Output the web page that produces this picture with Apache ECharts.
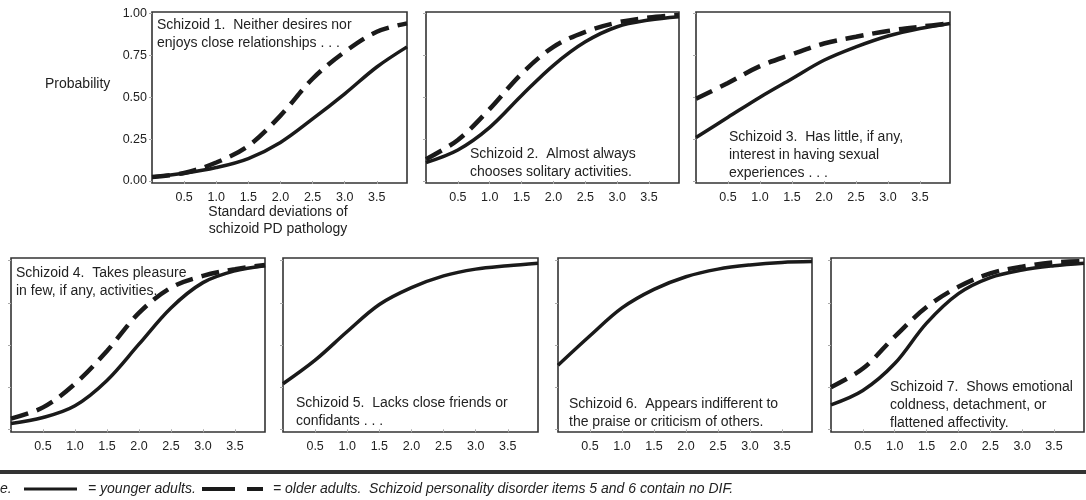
<!DOCTYPE html>
<html>
<head>
<meta charset="utf-8">
<script src="https://cdn.jsdelivr.net/npm/echarts@6/dist/echarts.min.js"></script>
<style>
html,body{margin:0;padding:0;background:#fff;}
#chart{width:1086px;height:500px;}
</style>
</head>
<body>
<div id="chart"></div>
<script>
// x positions (standard deviations of schizoid PD pathology)
const sdPoints = [0, 0.5, 1.0, 1.5, 2.0, 2.5, 3.0, 3.5, 3.97];
// probabilities
const younger1 = [0.024, 0.046, 0.08, 0.134, 0.23, 0.37, 0.52, 0.68, 0.80];
const older1   = [0.024, 0.048, 0.11, 0.21, 0.39, 0.61, 0.77, 0.89, 0.94];
const younger2 = [0.11, 0.185, 0.32, 0.51, 0.69, 0.83, 0.92, 0.96, 0.98];
const older2   = [0.13, 0.245, 0.43, 0.64, 0.80, 0.89, 0.945, 0.975, 0.99];
const younger3 = [0.26, 0.38, 0.50, 0.61, 0.72, 0.80, 0.865, 0.91, 0.94];
const older3   = [0.49, 0.585, 0.685, 0.755, 0.82, 0.86, 0.895, 0.92, 0.94];
const younger4 = [0.034, 0.07, 0.14, 0.29, 0.505, 0.72, 0.87, 0.94, 0.97];
const older4   = [0.063, 0.13, 0.27, 0.465, 0.69, 0.84, 0.91, 0.95, 0.975];
const younger5 = [0.27, 0.41, 0.58, 0.74, 0.84, 0.91, 0.95, 0.97, 0.985];
const younger6 = [0.38, 0.555, 0.72, 0.83, 0.905, 0.95, 0.975, 0.99, 0.995];
const younger7 = [0.145, 0.23, 0.39, 0.63, 0.805, 0.90, 0.945, 0.97, 0.985];
const older7   = [0.25, 0.36, 0.55, 0.725, 0.845, 0.925, 0.965, 0.99, 0.997];

const yTickValues = [0, 0.25, 0.5, 0.75, 1.0];
const yTickLabels = ['0.00', '0.25', '0.50', '0.75', '1.00'];
const xTickValues = [0.5, 1.0, 1.5, 2.0, 2.5, 3.0, 3.5];
const xTickLabels = ['0.5', '1.0', '1.5', '2.0', '2.5', '3.0', '3.5'];

const panelTitles = [
  'Schizoid 1.  Neither desires nor\nenjoys close relationships . . .',
  'Schizoid 2.  Almost always\nchooses solitary activities.',
  'Schizoid 3.  Has little, if any,\ninterest in having sexual\nexperiences . . .',
  'Schizoid 4.  Takes pleasure\nin few, if any, activities.',
  'Schizoid 5.  Lacks close friends or\nconfidants . . .',
  'Schizoid 6.  Appears indifferent to\nthe praise or criticism of others.',
  'Schizoid 7.  Shows emotional\ncoldness, detachment, or\nflattened affectivity.'
];
const youngerSeries = [younger1, younger2, younger3, younger4, younger5, younger6, younger7];
const olderSeries = [older1, older2, older3, older4, null, null, older7];

const yAxisLabel = 'Probability';
const xAxisLabel = 'Standard deviations of\nschizoid PD pathology';
const noteLead = 'e.';
const legendYounger = '= younger adults.';
const legendOlder = '= older adults.  Schizoid personality disorder items 5 and 6 contain no DIF.';

// layout
const FONT = '"Liberation Sans", Arial, sans-serif';
const TOP_ROW = {top: 12, height: 171, ymin: -0.012, ymax: 1.008};
const BOT_ROW = {top: 258, height: 174, ymin: -0.016, ymax: 1.016};
const gridBoxes = [
  {left: 152, width: 255, row: TOP_ROW},
  {left: 426, width: 253, row: TOP_ROW},
  {left: 696, width: 254, row: TOP_ROW},
  {left: 11, width: 254, row: BOT_ROW},
  {left: 283, width: 255, row: BOT_ROW},
  {left: 558, width: 254, row: BOT_ROW},
  {left: 831, width: 253, row: BOT_ROW}
];
const titlePos = [[157,16],[470,145],[729,128],[16,264],[296,394],[569,395],[890,378]];

const grids = [], xAxes = [], yAxes = [], series = [], graphics = [];
gridBoxes.forEach((g, i) => {
  grids.push({left: g.left, top: g.row.top, width: g.width, height: g.row.height,
    show: true, borderColor: '#333', borderWidth: 1.6, backgroundColor: 'transparent', containLabel: false});
  xAxes.push({type: 'value', gridIndex: i, min: 0, max: 3.97,
    axisLine: {show: false},
    axisTick: {show: true, customValues: xTickValues, length: 3, lineStyle: {color: '#aaa', width: 1}},
    axisLabel: {show: true, customValues: xTickValues, margin: 8, fontSize: 12.5, color: '#222', fontFamily: FONT,
      formatter: v => xTickLabels[xTickValues.indexOf(v)] ?? ''},
    splitLine: {show: false}});
  yAxes.push({type: 'value', gridIndex: i, min: g.row.ymin, max: g.row.ymax,
    axisLine: {show: false},
    axisTick: {show: true, customValues: yTickValues, length: 3, lineStyle: {color: '#aaa', width: 1}},
    axisLabel: {show: i === 0, customValues: yTickValues, margin: 5, fontSize: 12.5, color: '#222', fontFamily: FONT,
      formatter: v => yTickLabels[yTickValues.indexOf(v)] ?? ''},
    splitLine: {show: false}});
  if (olderSeries[i]) {
    series.push({type: 'line', xAxisIndex: i, yAxisIndex: i, smooth: 0.35, symbol: 'none',
      data: sdPoints.map((x, k) => [x, olderSeries[i][k]]),
      lineStyle: {color: '#1a1a1a', width: 4.5, type: [18, 9], cap: 'butt'}, z: 2});
  }
  series.push({type: 'line', xAxisIndex: i, yAxisIndex: i, smooth: 0.35, symbol: 'none',
    data: sdPoints.map((x, k) => [x, youngerSeries[i][k]]),
    lineStyle: {color: '#1a1a1a', width: 3.5, type: 'solid'}, z: 3});
  graphics.push({type: 'text', left: titlePos[i][0], top: titlePos[i][1], z: 10,
    style: {text: panelTitles[i], font: '14px ' + FONT, fill: '#222', lineHeight: 18}});
});

graphics.push({type: 'text', left: 45, top: 77, style: {text: yAxisLabel, font: '14px ' + FONT, fill: '#222'}});
graphics.push({type: 'text', x: 278, y: 204, style: {text: xAxisLabel, font: '14px ' + FONT, fill: '#222', align: 'center', lineHeight: 17}});
// footer rule
graphics.push({type: 'rect', shape: {x: 0, y: 470, width: 1086, height: 4}, style: {fill: '#333'}});
// footer note
graphics.push({type: 'text', x: 0, y: 489, style: {text: noteLead, font: 'italic 14px ' + FONT, fill: '#222', verticalAlign: 'middle'}});
graphics.push({type: 'line', shape: {x1: 24, y1: 489, x2: 77, y2: 489}, style: {stroke: '#1a1a1a', lineWidth: 3}});
graphics.push({type: 'text', x: 88, y: 489, style: {text: legendYounger, font: 'italic 14px ' + FONT, fill: '#222', verticalAlign: 'middle'}});
graphics.push({type: 'line', shape: {x1: 202, y1: 489, x2: 235, y2: 489}, style: {stroke: '#1a1a1a', lineWidth: 4}});
graphics.push({type: 'line', shape: {x1: 247, y1: 489, x2: 263, y2: 489}, style: {stroke: '#1a1a1a', lineWidth: 4}});
graphics.push({type: 'text', x: 273, y: 489, style: {text: legendOlder, font: 'italic 14px ' + FONT, fill: '#222', verticalAlign: 'middle'}});

const chart = echarts.init(document.getElementById('chart'), null, {renderer: 'canvas'});
chart.setOption({
  animation: false,
  backgroundColor: '#fff',
  grid: grids, xAxis: xAxes, yAxis: yAxes, series: series, graphic: graphics
});
</script>
</body>
</html>
